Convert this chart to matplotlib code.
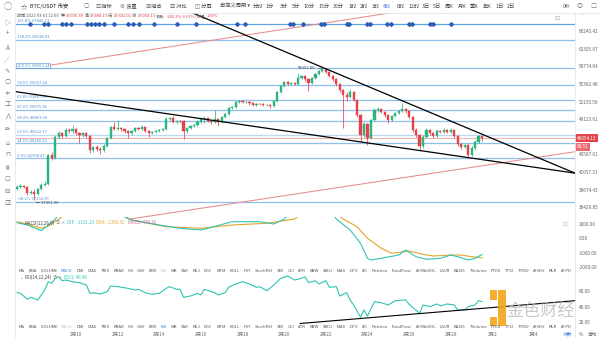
import matplotlib
matplotlib.use("Agg")
import matplotlib.pyplot as plt
import matplotlib.transforms as mtransforms
from matplotlib.lines import Line2D
from matplotlib.patches import Rectangle
from matplotlib.ticker import FixedLocator, NullLocator
import numpy as np

plt.rcParams['font.family'] = ['Noto Sans CJK SC', 'DejaVu Sans']
plt.rcParams['axes.unicode_minus'] = False

# ------------------------------------------------------------------ data
pair_name = "BTC/USDT 币安"
bar_time = "2021-03-01 12:00"
first_open = 38758.0
closes = [39021, 39153, 39021, 38235, 38365, 38106, 38758, 39287, 39421, 43495,
          43055, 46234, 46866, 46390, 47345, 47184, 47507, 46866, 46549, 46866,
          46390, 44240, 44692, 44391, 44240, 44843, 46078, 47830, 47507, 47668,
          47507, 47184, 46866, 47184, 47668, 47507, 47830, 47184, 46866, 47025,
          47184, 47345, 47507, 49146, 49313, 48648, 48812, 48790, 47184, 47668,
          47991, 48155, 48648, 49146, 49313, 48812, 48648, 49146, 48648, 49480,
          49987, 51014, 51187, 52063, 52239, 52063, 52090, 51887, 51536, 51712,
          51690, 51536, 51560, 51360, 52239, 53859, 54966, 55718, 55342, 55530,
          55342, 56479, 56862, 56288, 55530, 56479, 57250, 57835, 58227, 57640,
          56862, 56288, 55342, 54226, 53314, 52953, 53859, 52418, 49817, 46549,
          48319, 46078, 48979, 50669, 50842, 50326, 49817, 48979, 49647, 50156,
          50496, 50842, 50496, 49480, 47345, 46549, 44843, 46234, 47345, 46866,
          46390, 47184, 47025, 47345, 47025, 47345, 46390, 45150, 44692, 44996,
          43495, 44541, 45457, 46336.38, 46054.13]
highs = [39300, 39420, 39350, 39100, 38600, 38700, 38950, 39500, 39800, 43700,
         43900, 46500, 47200, 47100, 47700, 47600, 48100, 47700, 47000, 47100,
         47000, 46600, 44900, 44950, 44700, 45100, 46300, 48000, 48600, 48900,
         47900, 47700, 47300, 47400, 47900, 47850, 48100, 48000, 47300, 47250,
         47400, 47550, 47700, 49400, 49500, 49700, 49000, 49000, 48900, 47900,
         48200, 48400, 48900, 49400, 49600, 49500, 48950, 50600, 49300, 49700,
         50200, 51300, 51400, 52300, 52500, 52400, 52300, 52200, 52000, 51900,
         51900, 51800, 51750, 51700, 52400, 54000, 55200, 56000, 55900, 55750,
         55700, 57400, 57100, 57000, 56400, 56700, 57450, 58000, 58352.8, 58300,
         57800, 57000, 56400, 55500, 54400, 53900, 54400, 54000, 52600, 50000,
         48600, 48500, 49200, 51000, 51200, 51000, 50500, 50000, 49900, 50400,
         50700, 51900, 51100, 50700, 49600, 47600, 46700, 46500, 47600, 47500,
         47100, 47500, 47350, 47600, 47500, 47600, 47500, 46500, 45300, 45200,
         45100, 44800, 45700, 46500, 46488.13]
lows = [38600, 38900, 38850, 38000, 38100, 37351, 37950, 38600, 39100, 39300,
        42800, 42900, 45900, 46000, 46200, 46800, 46900, 46500, 45300, 46300,
        46100, 43800, 43900, 44100, 43700, 44000, 44700, 45900, 47300, 47300,
        47200, 46900, 46100, 46600, 47000, 47300, 47300, 47000, 46300, 46700,
        46900, 47000, 47200, 47400, 48900, 48500, 48400, 48500, 45900, 46900,
        47500, 47800, 48000, 48500, 48500, 48600, 48400, 48500, 48000, 48500,
        49300, 49800, 50800, 51000, 51900, 51800, 51850, 51600, 51300, 51400,
        51450, 51300, 51300, 51100, 51200, 52100, 53700, 54800, 55100, 55200,
        55100, 55200, 56300, 56000, 54000, 55400, 56300, 57100, 57700, 57400,
        56600, 56000, 55000, 53900, 47622, 52300, 52700, 52200, 49500, 45600,
        46300, 45000, 45900, 48800, 50400, 50100, 49500, 48500, 48800, 49500,
        49950, 50300, 50200, 49300, 47100, 46200, 44100, 44600, 46000, 46600,
        46000, 46200, 46800, 46800, 46800, 46850, 46100, 44900, 44400, 44500,
        43000, 43300, 44300, 45300, 45641.01]

price_ticks = [66240.42, 62305.97, 58774.64, 55362.48, 52150.56, 49123.61,
               43587.01, 41057.31, 38674.43, 36429.85]
fib_pcts = ["161.8%", "138.2%", "100.0%", "78.6%", "61.8%", "50.0%", "38.2%",
            "23.6%", "14.6%", "0.0%", "-38.2%"]
fib_prices = [67842.33, 64218.63, 58353.14, 55067.24, 52487.66, 50675.81,
              48863.96, 46622.17, 45240.25, 42998.47, 37132.99]

# trend lines: (candle index, price) anchors
upper_trend = ([69.2, 160.8], [64250, 40900])
lower_trend = ([-0.29, 160.8], [53913, 40900])
chan_upper = ([9.5, 108.0], [58990, 70480])
chan_lower = ([32.6, 160.8], [35007, 43980])

event_idx = [3.7, 7.8, 8.9, 13, 14.1, 15.6, 20.2, 21.3, 22.5, 23.6, 25.1, 28,
             32, 33.4, 35.2, 39.5, 46.1, 51.6, 63.4, 65.7, 78.7, 79.5, 82.4,
             87.6, 88.5, 95.1, 95.7, 100.9, 101.7, 106.6, 107.8, 113, 113.8,
             119, 119.9, 125.1]

dif_idx = [0, 3, 7, 9, 11, 14, 20, 26, 30, 33, 41, 47, 53, 62, 70, 74, 77, 82,
           88, 92, 96, 99, 101, 102, 105, 110, 112, 115, 118, 122, 125, 127,
           130, 132, 134]
dif_val = [1091, 930, 531, 930, 1329, 2400, 2500, 1900, 1600, 1280, 930, 699,
           580, 1161, 1161, 1000, 1350, 2600, 3000, 1350, 580, -350, -1399,
           -1517, -1399, -1168, -818, -1287, -1469, -1399, -1168, -1287, -1517,
           -1399, -1131.13]
dea_idx = [0, 3, 7, 9, 12, 16, 22, 28, 33, 43, 53, 62, 72, 80, 84, 88, 94, 98,
           101, 105, 108, 113, 117, 120, 125, 128, 131, 134]
dea_val = [1161, 1000, 699, 860, 1329, 2100, 2300, 1900, 1280, 811, 699, 930,
           1049, 1350, 2100, 2600, 1350, 811, 0, -699, -1049, -888, -1119,
           -1238, -1168, -1168, -1287, -1366.31]

rsi_idx = [0, 1, 3, 4, 6, 7, 8, 9, 10, 11, 12, 13, 14, 16, 18, 20, 21, 22, 24,
           26, 27, 29, 32, 34, 35, 37, 39, 41, 43, 44, 46, 47, 48, 50, 52, 53,
           54, 57, 58, 60, 61, 63, 65, 67, 69, 70, 72, 74, 76, 78, 80, 82, 83,
           84, 86, 87, 89, 90, 92, 93, 95, 96, 97, 99, 100, 101, 103, 105, 107,
           109, 112, 113, 116, 117, 119, 121, 122, 124, 126, 127, 129, 130, 132,
           133, 134]
rsi_val = [57.9, 57.1, 49.5, 52.0, 48.6, 55.0, 61.3, 72.0, 69.9, 76.3, 78.3,
           73.2, 74.1, 72.0, 70.7, 67.7, 57.0, 57.9, 56.2, 59.2, 66.5, 65.6,
           63.5, 61.3, 62.2, 57.9, 55.8, 57.1, 63.5, 65.6, 62.2, 62.2, 52.0,
           53.7, 57.1, 55.0, 62.2, 57.9, 55.0, 57.9, 64.8, 69.0, 72.0, 69.0,
           64.8, 65.6, 60.4, 67.7, 76.3, 79.2, 74.1, 76.3, 78.3, 70.7, 73.2,
           69.0, 73.2, 64.8, 65.6, 53.7, 57.9, 48.6, 42.2, 26.5, 35.8, 28.1,
           46.4, 45.1, 42.2, 47.7, 48.6, 43.1, 31.6, 42.2, 40.0, 43.5, 40.9,
           43.5, 42.2, 35.8, 35.8, 40.0, 42.2, 47.7, 46.46]
rsi_trend = ([81.6, 160.8], [18.5, 47.7])

date_idx = [17, 29, 41, 53, 65, 77, 89, 101, 113, 125, 137, 149]
date_labels = ["2月10", "2月12", "2月14", "2月16", "2月18", "2月20", "2月22",
               "2月24", "2月26", "2月28", "3月2", "3月4"]
macd_ticks = [1000, 0, -1000, -2000]
rsi_ticks = [60, 40, 20]

tabs = ["MA", "EMA", "VOLUME", "MACD", "DMI", "DMA", "TRIX", "BRAR", "VR", "OBV",
        "EMV", "RSI", "WR", "SAR", "KDJ", "ROC", "MTM", "BOLL", "PSY", "StochRSI",
        "SMI", "CCI", "ATR", "BBW", "SKDJ", "BIAS", "DPO", "AO", "Position",
        "FundFlow", "AI-MktVOL", "LSUR", "BASIS", "TVolume", "FTDS", "TTSI",
        "TTMU", "AI-BSI", "MLR", "AI-PD"]
periods = ["分时", "1分", "3分", "5分", "10分", "15分", "30分", "1时", "2时", "3时",
           "4时", "6时", "12时", "3日", "5日", "周K", "月K", "季K", "年K", "1日", "2日"]
period_x = [253, 265, 280, 292, 303, 318, 333, 348, 360, 372, 383, 397, 408,
            422, 433, 445, 458, 470, 483, 495, 507]
active_period = "4时"

# ------------------------------------------------------------------ style
GREEN = '#2DB47F'
RED = '#E4434B'
FIB = '#8DBFEA'
FIB_TXT = '#4B8ED6'
TEAL = '#2EC4B1'
ORANGE = '#E3A62A'
GRAY = '#555555'
BLUE = '#3D7BD9'

W, H = 600, 338
fig = plt.figure(figsize=(W / 100, H / 100), dpi=100)
fig.patch.set_facecolor('white')
renderer = fig.canvas.get_renderer()


def rect(x0, y0, x1, y1):
    return [x0 / W, 1 - y1 / H, (x1 - x0) / W, (y1 - y0) / H]


def put(x, y, s, size=3.6, color=GRAY, ha='left', **kw):
    return fig.text(x / W, 1 - y / H, s, fontsize=size, color=color, ha=ha,
                    va='center', **kw)


def run(x, y, parts, size, gap=0.0):
    for s, col in parts:
        t = put(x, y, s, size, col)
        x = t.get_window_extent(renderer).x1 + gap
    return x


def hline_px(y, x0, x1, color='#e6e6e6', lw=0.6):
    fig.add_artist(Line2D([x0 / W, x1 / W], [1 - y / H, 1 - y / H], color=color, lw=lw))


def vline_px(x, y0, y1, color='#e6e6e6', lw=0.6):
    fig.add_artist(Line2D([x / W, x / W], [1 - y0 / H, 1 - y1 / H], color=color, lw=lw))


def loglin(idx_pair, px_pair, x_from, x_to):
    (i0, i1), (p0, p1) = idx_pair, px_pair
    k = (np.log(p1) - np.log(p0)) / (i1 - i0)
    xs = np.array([x_from, x_to])
    return xs, np.exp(np.log(p0) + k * (xs - i0))


XL = (-0.576, 160.8)

# ------------------------------------------------------------------ main pane
ax = fig.add_axes(rect(15, 13, 575, 215))
ax.set_facecolor('none')
ax.set_yscale('log')
ax.set_xlim(*XL)
ax.set_ylim(35486, 70411)
for s in ax.spines.values():
    s.set_visible(False)
ax.set_xticks([])
ax.yaxis.tick_right()
ax.yaxis.set_major_locator(FixedLocator(price_ticks))
ax.yaxis.set_minor_locator(NullLocator())
ax.set_yticklabels([f"{v:.2f}" for v in price_ticks])
ax.tick_params(axis='y', length=0, pad=2.5, labelsize=3.4, labelcolor='#666666')

# fibonacci levels
for pct, pv in zip(fib_pcts, fib_prices):
    col = '#5FA3E6' if pct == "161.8%" else ('#BBD9F3' if pct == "23.6%" else FIB)
    ax.axhline(pv, color=col, lw=0.9, zorder=1)
    bx = dict(boxstyle='square,pad=0.15', fc='none', ec=FIB_TXT, lw=0.4) if pct == "100.0%" else None
    ax.annotate(f"{pct} {pv:.2f}", xy=(0, pv), xycoords=('axes fraction', 'data'),
                xytext=(1.2, 0.6), textcoords='offset points', fontsize=3.0,
                color=FIB_TXT, va='bottom', ha='left', bbox=bx, zorder=2)

# event markers on the top level
ax.plot(event_idx, [fib_prices[0]] * len(event_idx), 'D', ms=1.9, color='#2B5DB5',
        mec='#2B5DB5', zorder=3, ls='none')

# channel (red) lines
xs, ys = loglin(*chan_upper, chan_upper[0][0], 130)
ax.plot(xs, ys, color='#E58C8C', lw=0.75, zorder=2)
xs, ys = loglin(*chan_lower, chan_lower[0][0], chan_lower[0][1])
ax.plot(xs, ys, color='#E58C8C', lw=0.75, zorder=2, clip_on=False)

# candles
c = np.array(closes, dtype=float)
o = np.array([first_open] + closes[:-1], dtype=float)
idx = np.arange(len(c))
cols = np.where(c >= o, GREEN, RED)
ax.vlines(idx, lows, highs, colors=cols, lw=0.55, zorder=4)
ax.bar(idx, np.abs(c - o), bottom=np.minimum(c, o), width=0.62, color=cols,
       edgecolor=cols, lw=0.3, zorder=5)

# black trend lines
xs, ys = loglin(*upper_trend, XL[0], upper_trend[0][1])
ax.plot(xs, ys, color='black', lw=0.9, zorder=6)
xs, ys = loglin(*lower_trend, XL[0], lower_trend[0][1])
ax.plot(xs, ys, color='black', lw=0.9, zorder=6)

# current price line + labels
last = c[-1]
ax.axhline(last, color=RED, lw=0.6, ls=(0, (1.2, 1.2)), zorder=3)
bt = mtransforms.blended_transform_factory(fig.transFigure, ax.transData)
ax.text(576.5 / W, last, f"{last:.2f}", transform=bt, fontsize=3.4, color='white',
        va='center', ha='left', clip_on=False,
        bbox=dict(boxstyle='square,pad=0.35', fc=RED, ec='none'))
ax.annotate("08:51", xy=(576.5 / W, last), xycoords=bt, xytext=(0, -6.2),
            textcoords='offset points', fontsize=3.4, color='white', va='center',
            ha='left', annotation_clip=False,
            bbox=dict(boxstyle='square,pad=0.35', fc='#E96A70', ec='none'))

# high / low markers
hi_i = int(np.argmax(highs))
lo_i = int(np.argmin(lows))
ax.annotate(f"{highs[hi_i]:.2f}", xy=(hi_i, highs[hi_i]), xytext=(-5, 0),
            textcoords='offset points', fontsize=3.0, color='#444', ha='right',
            va='center', arrowprops=dict(arrowstyle='-', lw=0.4, color='#444',
                                         shrinkA=0, shrinkB=0), zorder=7)
ax.annotate(f"← {lows[lo_i]:.2f}", xy=(lo_i, lows[lo_i]), xytext=(1, -1),
            textcoords='offset points', fontsize=3.0, color='#444', ha='left',
            va='top', zorder=7)

# ------------------------------------------------------------------ MACD pane
axm = fig.add_axes(rect(15, 217, 575, 268))
axm.set_facecolor('none')
axm.set_xlim(*XL)
axm.set_ylim(-2077, 1490)
for s in axm.spines.values():
    s.set_visible(False)
axm.set_xticks([])
axm.yaxis.tick_right()
axm.yaxis.set_major_locator(FixedLocator(macd_ticks))
axm.set_yticklabels([f"{v:.2f}" for v in macd_ticks])
axm.tick_params(axis='y', length=0, pad=2.5, labelsize=3.4, labelcolor='#666666')
axm.plot(dea_idx, dea_val, color=ORANGE, lw=0.8)
axm.plot(dif_idx, dif_val, color=TEAL, lw=0.8)

# ------------------------------------------------------------------ RSI pane
axr = fig.add_axes(rect(15, 274, 575, 326))
axr.set_facecolor('none')
axr.set_xlim(*XL)
axr.set_ylim(15.3, 81.8)
for s in axr.spines.values():
    s.set_visible(False)
axr.yaxis.tick_right()
axr.yaxis.set_major_locator(FixedLocator(rsi_ticks))
axr.set_yticklabels([f"{v:.2f}" for v in rsi_ticks])
axr.tick_params(axis='y', length=0, pad=2.5, labelsize=3.4, labelcolor='#666666')
axr.set_xticks(date_idx)
axr.set_xticklabels(date_labels)
axr.tick_params(axis='x', length=0, pad=4.6, labelsize=3.3, labelcolor='#666666')
axr.plot(rsi_idx, rsi_val, color=TEAL, lw=0.8)
axr.plot(*rsi_trend, color='black', lw=0.8, clip_on=False)

# ------------------------------------------------------------------ frame lines
hline_px(13, 15, 600)
vline_px(15, 13, 338)
vline_px(575, 13, 338)

# ------------------------------------------------------------------ toolbar
put(8, 6.5, "◯", 6.0, '#888888', ha='center')
put(24, 6.5, "☆", 4.6, '#555555', ha='center')
put(30, 6.5, pair_name, 3.9, '#222222')
put(86, 6.5, "○", 4.0, '#666666', ha='center')
for sym, lab, x in [("▥", "指标", 95), ("⚙", "设置", 120), ("▣", "组合", 145),
                    ("▨", "对比", 170), ("◫", "分屏", 195)]:
    run(x, 6.5, [(sym, '#666666'), (" " + lab, '#444444')], 3.8)
put(220, 6.5, "自定义周期 ▾", 3.8, '#444444')
for p, x in zip(periods, period_x):
    put(x, 6.5, p, 3.8, BLUE if p == active_period else '#444444')
put(563, 6.5, "0秒", 3.6, '#666666')
put(580, 6.5, "◎", 4.4, '#888888', ha='center')
put(593, 6.5, "□", 4.4, '#888888', ha='center')
put(582, 15.5, "—", 3.0, '#888888', ha='center')
put(557, 18, "⊡", 4.2, '#aaaaaa', ha='center')

# info line
chg = closes[-1] - closes[-2]
amp = (highs[-1] - lows[-1]) / closes[-2] * 100
info = [("时间:" + bar_time + "  ", GRAY),
        ("开:", GRAY), (f"{closes[-2]:.2f}  ", RED),
        ("高:", GRAY), (f"{highs[-1]:.2f}  ", RED),
        ("低:", GRAY), (f"{lows[-1]:.2f}  ", RED),
        ("收:", GRAY), (f"{closes[-1]:.2f}  ", RED),
        ("涨跌:", GRAY), (f"{chg:.2f}({chg / closes[-2] * 100:.2f}%)  ", RED),
        ("振幅:", GRAY), (f"{amp:.2f}%", RED)]
run(17, 16.3, info, 2.95)

# left tool column
for sym, y in [("▷", 23), ("+", 33), ("A", 48), ("╱", 60), ("✎", 71), ("○", 82),
               ("≑", 93), ("工", 104), ("⋀", 116), ("✏", 129), ("⌂", 143),
               ("⊓", 154), ("⋕", 166), ("☐", 179), ("⊟", 191), ("▥", 203)]:
    put(7.5, y, sym, 4.6, '#777777', ha='center')

# indicator legends
run(20, 223, [("⌄ ", '#888888'), ("MACD(12,26,9)", '#444444'), (" ◎ ✕  ", '#999999'),
              (f"DIF: {dif_val[-1]:.2f}   ", TEAL), (f"DEA: {dea_val[-1]:.2f}   ", ORANGE),
              (f"MACD: {2 * (dif_val[-1] - dea_val[-1]):.2f}", '#D0679B')], 3.2)
run(20, 277.7, [("⌄ ", '#888888'), ("RSI(14,12,24)", '#444444'), (" ◎ ✕  ", '#999999'),
                (f"RSI1: {rsi_val[-1]:.2f}", TEAL)], 3.2)
put(565, 224, "⊡", 4.0, '#bbbbbb', ha='center')


# tab rows
def tab_row(y, active, dim):
    ts = [put(0, y, n, 3.05, BLUE if n == active else ('#c4c4c4' if n == dim else '#555555'))
          for n in tabs]
    widths = [t.get_window_extent(renderer).width for t in ts]
    x0, x1 = 18.5, 572.0
    gap = (x1 - x0 - sum(widths)) / (len(ts) - 1)
    x = x0
    for t, w in zip(ts, widths):
        t.set_x(x / W)
        x += w + gap


tab_row(271, "MACD", "RSI")
tab_row(327, "RSI", "MACD")

# bottom-right controls
put(563, 334, "对数", 3.4, BLUE)
put(579, 334, "%", 3.4, '#666666')
put(587, 334, "自动", 3.4, '#666666')

# watermark
fig.add_artist(Rectangle((490 / W, 1 - 326 / H), 7 / W, 9 / H, transform=fig.transFigure,
                         fc='#F2A51A', ec='none', alpha=0.9))
fig.add_artist(Rectangle((498 / W, 1 - 326 / H), 8 / W, 36 / H, transform=fig.transFigure,
                         fc='#F2A51A', ec='none', alpha=0.9))
fig.add_artist(Rectangle((490 / W, 1 - 300 / H), 7 / W, 10 / H, transform=fig.transFigure,
                         fc='#F2A51A', ec='none', alpha=0.9))
put(541, 311, "金色财经", 12.3, '#bdbdbd', ha='center', alpha=0.85)

fig.savefig("out.png", dpi=100)
